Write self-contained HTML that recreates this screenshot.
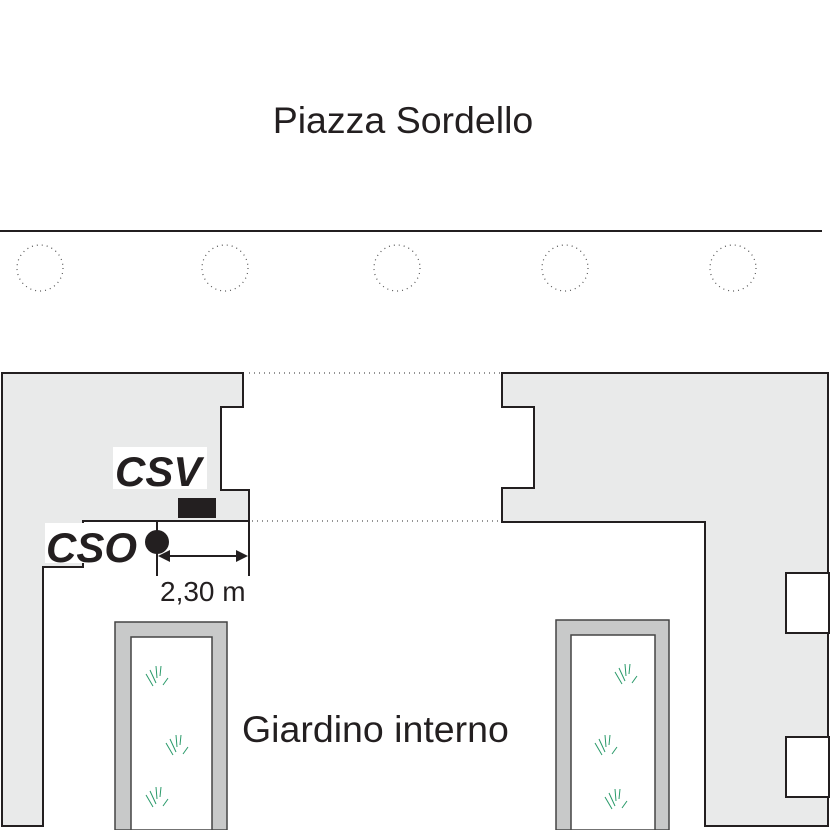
<!DOCTYPE html>
<html><head><meta charset="utf-8"><style>
html,body{margin:0;padding:0;background:#fff;}
svg{display:block;}
text{font-family:"Liberation Sans",Arial,sans-serif;fill:#231f20;}
</style></head><body>
<svg width="831" height="830" viewBox="0 0 831 830" xmlns="http://www.w3.org/2000/svg">
<text x="403" y="133" font-size="37.5" text-anchor="middle">Piazza Sordello</text>
<line x1="0" y1="231" x2="822" y2="231" stroke="#231f20" stroke-width="2"/>
<g fill="none" stroke="#555" stroke-width="1.2" stroke-dasharray="1 4">
<circle cx="40" cy="268" r="23"/><circle cx="225" cy="268" r="23"/><circle cx="397" cy="268" r="23"/><circle cx="565" cy="268" r="23"/><circle cx="733" cy="268" r="23"/>
</g>
<g stroke="#555" stroke-width="1.2" stroke-dasharray="1 4">
<line x1="249" y1="373" x2="500" y2="373"/>
<line x1="252" y1="521" x2="500" y2="521"/>
</g>
<polygon points="2,373 243,373 243,407 221,407 221,490 249,490 249,521 83,521 83,567 43,567 43,826 2,826" fill="#e9eaea" stroke="#231f20" stroke-width="2"/>
<polygon points="502,373 828,373 828,826 705,826 705,522 502,522 502,488 534,488 534,407 502,407" fill="#e9eaea" stroke="#231f20" stroke-width="2"/>
<rect x="786" y="573" width="43" height="60" fill="#fff" stroke="#231f20" stroke-width="2"/>
<rect x="786" y="737" width="43" height="60" fill="#fff" stroke="#231f20" stroke-width="2"/>
<rect x="115" y="622" width="112" height="208" fill="#c8c9c9" stroke="#444" stroke-width="1.5"/>
<rect x="131" y="637" width="81" height="193" fill="#fff" stroke="#444" stroke-width="1.5"/>
<rect x="556" y="620" width="113" height="210" fill="#c8c9c9" stroke="#444" stroke-width="1.5"/>
<rect x="571" y="635" width="84" height="195" fill="#fff" stroke="#444" stroke-width="1.5"/>
<g stroke="#2a9a6a" stroke-width="1" fill="none">
<path d="M146,674 l7,12 M150,670 l6,13 M156,666 l1,12 M161,666 l-1,10 M168,678 l-5,7"/>
<path d="M166,743 l7,12 M170,739 l6,13 M176,735 l1,12 M181,735 l-1,10 M188,747 l-5,7"/>
<path d="M146,795 l7,12 M150,791 l6,13 M156,787 l1,12 M161,787 l-1,10 M168,799 l-5,7"/>
<path d="M615,672 l7,12 M619,668 l6,13 M625,664 l1,12 M630,664 l-1,10 M637,676 l-5,7"/>
<path d="M595,743 l7,12 M599,739 l6,13 M605,735 l1,12 M610,735 l-1,10 M617,747 l-5,7"/>
<path d="M605,797 l7,12 M609,793 l6,13 M615,789 l1,12 M620,789 l-1,10 M627,801 l-5,7"/>
</g>
<rect x="113" y="447" width="94" height="42" fill="#fff"/>
<text x="115" y="486" font-size="42" font-weight="bold" font-style="italic">CSV</text>
<rect x="178" y="498" width="38" height="20" fill="#231f20"/>
<rect x="45" y="523" width="98" height="40" fill="#fff"/>
<text x="46" y="562" font-size="42" font-weight="bold" font-style="italic">CSO</text>
<line x1="157" y1="521" x2="157" y2="576" stroke="#231f20" stroke-width="2"/>
<line x1="249" y1="521" x2="249" y2="576" stroke="#231f20" stroke-width="2"/>
<circle cx="157" cy="542" r="12" fill="#231f20"/>
<line x1="164" y1="556" x2="242" y2="556" stroke="#231f20" stroke-width="2"/>
<polygon points="158,556 170,550 170,562" fill="#231f20"/>
<polygon points="248,556 236,550 236,562" fill="#231f20"/>
<text x="160" y="601" font-size="28">2,30 m</text>
<text x="242" y="742" font-size="37.5">Giardino interno</text>
</svg>
</body></html>
